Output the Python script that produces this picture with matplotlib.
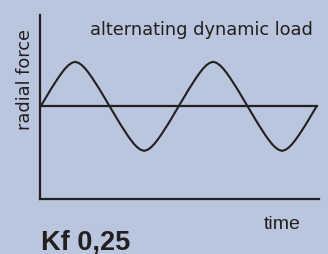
import numpy as np
import matplotlib
matplotlib.use("Agg")
import matplotlib.pyplot as plt
from matplotlib import font_manager

# quarter-cycle profile of the load curve (x in quarter periods, y in amplitudes)
quarter_x = [0.0, 0.1, 0.2, 0.3, 0.4, 0.5, 0.6, 0.7, 0.8, 0.9, 1.0]
quarter_y = [0.0, 0.13, 0.26, 0.39, 0.51, 0.63, 0.74, 0.84, 0.92, 0.975, 1.0]
n_cycles = 2

title_text = "alternating dynamic load"
y_label = "radial force"
x_label = "time"
factor_label = "Kf 0,25"

bg = "#b9c6dd"
ink = "#231f20"


def pick_font(name, fallback):
    try:
        font_manager.findfont(name, fallback_to_default=False)
        return name, True
    except Exception:
        return fallback, False


def main():
    qx = np.array(quarter_x)
    qy = np.array(quarter_y)
    cyc_x = np.concatenate([qx, 2 - qx[::-1], 2 + qx, 4 - qx[::-1]])
    cyc_y = np.concatenate([qy, qy[::-1], -qy, -qy[::-1]])
    xs = np.concatenate([cyc_x + 4 * k for k in range(n_cycles)])
    ys = np.concatenate([cyc_y for k in range(n_cycles)])

    fig = plt.figure(figsize=(3.28, 2.55), dpi=100)
    fig.patch.set_facecolor(bg)
    ax = fig.add_axes([40 / 328, 55 / 255, 279 / 328, 184 / 255])
    ax.set_facecolor(bg)

    ax.plot(xs, ys, color=ink, lw=1.5, solid_capstyle="round", solid_joinstyle="round")
    ax.plot([0, 4 * n_cycles], [0, 0], color=ink, lw=1.6)

    ax.set_xlim(-0.02, 8.07)
    ax.set_ylim(-2.08, 2.05)
    for s in ["top", "right"]:
        ax.spines[s].set_visible(False)
    for s in ["left", "bottom"]:
        ax.spines[s].set_color(ink)
        ax.spines[s].set_linewidth(1.6)
    ax.set_xticks([])
    ax.set_yticks([])

    fig.text(201 / 328, (255 - 35.3) / 255, title_text, ha="center", va="baseline",
             fontsize=12.8, color=ink, family="DejaVu Sans")
    fig.text(25 / 328, (255 - 80) / 255, y_label, ha="center", va="center",
             rotation=90, fontsize=12.8, color=ink, family="DejaVu Sans")
    fig.text(264 / 328, (255 - 229) / 255, x_label, ha="left", va="baseline",
             fontsize=14, color=ink, family="Liberation Sans")

    fam, narrow = pick_font("Liberation Sans Narrow", "Liberation Sans")
    fig.text(41 / 328, (255 - 250) / 255, factor_label, ha="left", va="baseline",
             fontsize=23 if narrow else 19.5, fontweight="bold", color=ink, family=fam)

    fig.savefig("out.png", dpi=100, facecolor=bg)


if __name__ == "__main__":
    main()
